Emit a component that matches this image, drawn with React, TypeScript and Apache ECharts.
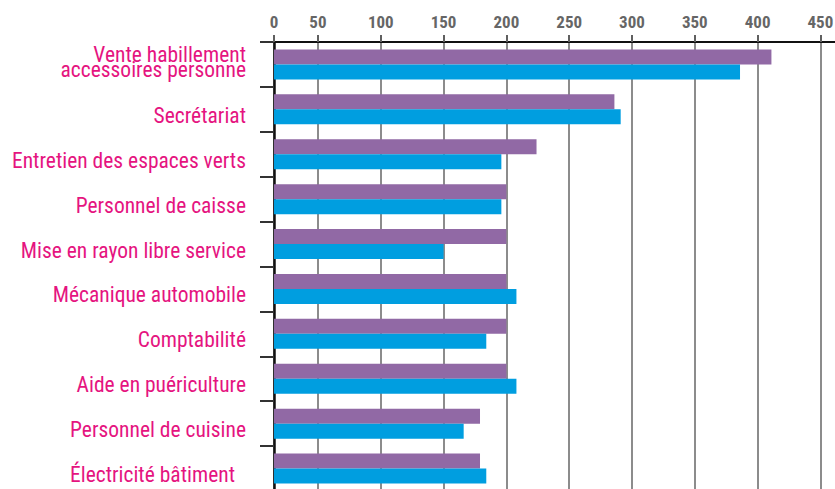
import React, { useEffect, useRef } from "react";
import * as echarts from "echarts";

const categories = [
  "Vente habillement\naccessoires personne",
  "Secrétariat",
  "Entretien des espaces verts",
  "Personnel de caisse",
  "Mise en rayon libre service",
  "Mécanique automobile",
  "Comptabilité",
  "Aide en puériculture",
  "Personnel de cuisine",
  "Électricité bâtiment",
];
const purpleValues = [411, 286, 224, 200, 200, 200, 200, 200, 179, 179];
const blueValues = [386, 291, 196, 196, 150, 208, 184, 208, 166, 184];
const xTickLabels = ["0", "50", "100", "150", "200", "250", "300", "350", "400", "450"];

const PURPLE = "#9169a5";
const BLUE = "#009ee0";
const MAGENTA = "#e5147f";
const NARROW = "'Roboto Condensed', 'Liberation Sans Narrow', 'DejaVu Sans Condensed', sans-serif";

export default function App() {
  const ref = useRef<HTMLDivElement>(null);
  useEffect(() => {
    document.body.style.margin = "0";
    if (!ref.current) return;
    const chart = echarts.init(ref.current, undefined, { renderer: "svg" });
    const base = { fontFamily: NARROW, fontSize: 21.5, color: MAGENTA };
    chart.setOption({
      animation: false,
      backgroundColor: "#ffffff",
      grid: { left: 274, top: 42, right: -3, bottom: -2, containLabel: false, outerBoundsMode: "none" },
      xAxis: {
        type: "value",
        position: "top",
        min: 15,
        max: 464,
        splitNumber: 9,
        minInterval: 50,
        maxInterval: 50,
        axisLine: { show: true, lineStyle: { color: "#111111", width: 2 } },
        axisTick: { show: true, inside: false, length: 7, lineStyle: { color: "#606060", width: 2 } },
        splitLine: { show: true, lineStyle: { color: "#8c8c8c", width: 2 } },
        axisLabel: {
          margin: 12,
          fontFamily: NARROW,
          fontWeight: "bold",
          fontSize: 17,
          color: "#666666",
          formatter: (_v: number, i: number) => (i < xTickLabels.length ? xTickLabels[i] : ""),
        },
      },
      yAxis: {
        type: "category",
        inverse: true,
        data: categories,
        axisLine: { show: true, lineStyle: { color: "#111111", width: 2.5 } },
        axisTick: { show: true, inside: false, length: 14, lineStyle: { color: "#333333", width: 2 } },
        splitLine: { show: false },
        axisLabel: {
          margin: 28,
          interval: 0,
          ...base,
          formatter: (v: string) => {
            if (v.includes("\n")) {
              const parts = v.split("\n");
              return `{m|${parts[0]}}\n{n|${parts[1]}}`;
            }
            if (v === "Électricité bâtiment") return `{e|${v}}`;
            return `{s|${v}}`;
          },
          rich: {
            s: { ...base, padding: [12, 0, 0, 0] },
            e: { ...base, padding: [12, 11, 0, 0] },
            m: { ...base, lineHeight: 19 },
            n: { ...base, lineHeight: 19, padding: [0, 0, 8, 0] },
          },
        },
      },
      series: [
        {
          type: "bar",
          data: purpleValues,
          barWidth: 15,
          barGap: "0%",
          itemStyle: { color: PURPLE },
        },
        {
          type: "bar",
          data: blueValues,
          barWidth: 15,
          barGap: "0%",
          itemStyle: { color: BLUE },
        },
      ],
    });
    return () => chart.dispose();
  }, []);
  return <div ref={ref} style={{ width: 835, height: 489 }} />;
}
